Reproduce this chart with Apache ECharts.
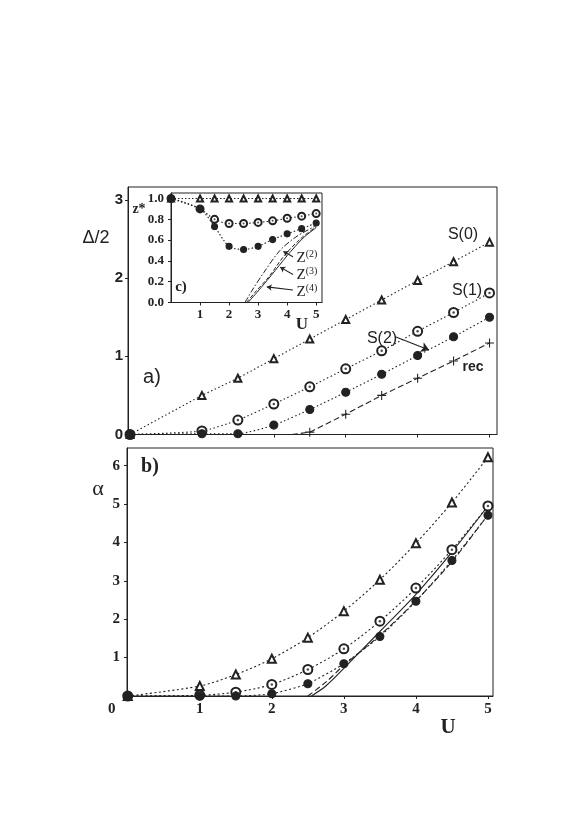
<!DOCTYPE html>
<html>
<head>
<meta charset="utf-8">
<script src="https://cdn.jsdelivr.net/npm/echarts@6/dist/echarts.min.js"></script>
<style>
html, body { margin: 0; padding: 0; background: #fff; }
#chart { width: 581px; height: 823px; }
</style>
</head>
<body>
<div id="chart"></div>
<script>
// a) Delta/2 against U
var uA = [0, 1, 1.5, 2, 2.5, 3, 3.5, 4, 4.5, 5];
var aS0 = [0, 0.50, 0.72, 0.97, 1.22, 1.47, 1.72, 1.97, 2.21, 2.46];
var aS1 = [0, 0.045, 0.185, 0.39, 0.61, 0.84, 1.07, 1.32, 1.56, 1.81];
var aS2 = [0, 0.01, 0.01, 0.12, 0.32, 0.54, 0.77, 1.01, 1.25, 1.50];
var uRecA = [2.25, 2.5, 3, 3.5, 4, 4.5, 5];
var aRec = [0, 0.03, 0.26, 0.50, 0.72, 0.94, 1.17];

// b) alpha against U
var uB = [0, 1, 1.5, 2, 2.5, 3, 3.5, 4, 4.5, 5];
var bS0 = [0, 0.26, 0.56, 0.97, 1.52, 2.21, 3.03, 3.98, 5.04, 6.22];
var bS1 = [0, 0.02, 0.10, 0.30, 0.69, 1.23, 1.95, 2.81, 3.81, 4.95];
var bS2 = [0, 0, 0, 0.06, 0.32, 0.84, 1.55, 2.47, 3.53, 4.71];
var uSolidB = [2.55, 2.75, 3, 3.5, 4, 4.5, 5];
var bSolid = [0, 0.26, 0.72, 1.68, 2.65, 3.75, 4.95];
var uDashB = [2.5, 2.75, 3, 3.5, 4, 4.5, 5];
var bDash = [0, 0.36, 0.80, 1.58, 2.48, 3.50, 4.72];

// c) inset z* against U
var uC = [0, 1, 1.5, 2, 2.5, 3, 3.5, 4, 4.5, 5];
var cS0 = [1, 1, 1, 1, 1, 1, 1, 1, 1, 1];
var cS1 = [1, 0.90, 0.80, 0.76, 0.76, 0.77, 0.785, 0.81, 0.83, 0.855];
var cS2 = [1, 0.90, 0.73, 0.54, 0.51, 0.54, 0.605, 0.66, 0.71, 0.765];
var uZ2 = [2.55, 2.8, 3.2, 3.75, 4.3, 5];
var cZ2 = [0, 0.12, 0.29, 0.50, 0.63, 0.74];
var uZ3 = [2.6, 2.9, 3.35, 3.9, 4.45, 5];
var cZ3 = [0, 0.10, 0.24, 0.45, 0.61, 0.73];
var uZ4 = [2.65, 3.0, 3.45, 4.0, 4.55, 5];
var cZ4 = [0, 0.11, 0.26, 0.45, 0.62, 0.72];

// tick labels
var aXTicks = [1, 2, 3, 4, 5];
var aYTicks = [0, 1, 2, 3];
var bXTicks = [0, 1, 2, 3, 4, 5];
var bYTicks = [1, 2, 3, 4, 5, 6];
var cXTicks = [1, 2, 3, 4, 5];
var cYTicks = [0, 0.2, 0.4, 0.6, 0.8, 1.0];

var ink = '#222';
var plusPath = 'path://M4.4,0H5.6V4.4H10V5.6H5.6V10H4.4V5.6H0V4.4H4.4Z';

function pts(xs, ys, firstBare) {
	var out = [];
	for (var i = 0; i < xs.length; i++) {
		if (firstBare && i === 0) out.push({ value: [xs[i], ys[i]], symbol: 'none' });
		else out.push([xs[i], ys[i]]);
	}
	return out;
}

function curve(gi, xs, ys, opt) {
	var s = {
		type: 'line',
		xAxisIndex: gi, yAxisIndex: gi,
		data: pts(xs, ys, opt.firstBare),
		smooth: opt.smooth || false,
		symbol: opt.symbol || 'none',
		symbolSize: opt.size || 8,
		showSymbol: !!opt.symbol,
		lineStyle: { color: ink, width: opt.width || 1.1, type: opt.dash || 'solid' },
		itemStyle: { color: opt.fill || ink, borderColor: ink, borderWidth: opt.bw === undefined ? 1.1 : opt.bw },
		z: opt.z || 2,
		silent: true
	};
	if (opt.markLine) s.markLine = opt.markLine;
	return s;
}

// centre dots of the open circles
function dots(gi, xs, ys, size, z) {
	return {
		type: 'scatter', xAxisIndex: gi, yAxisIndex: gi,
		data: pts(xs, ys), symbol: 'circle', symbolSize: size,
		itemStyle: { color: ink }, z: z || 3, silent: true
	};
}

function arrow(from, to, z, head) {
	return {
		silent: true, animation: false, z: z,
		symbol: ['none', 'arrow'], symbolSize: head || 9,
		label: { show: false },
		itemStyle: { color: ink },
		lineStyle: { color: ink, width: 1.1, type: 'solid' },
		data: [[{ coord: from }, { coord: to }]]
	};
}

function xAxis(gi, min, max, ticks, showLabels, font, fontSize, z, fmt) {
	return {
		type: 'value', gridIndex: gi, min: min, max: max, z: z || 0,
		splitLine: { show: false },
		axisLine: { show: true, onZero: false, lineStyle: { color: ink, width: 1 } },
		axisTick: { show: true, length: 3, customValues: ticks, lineStyle: { color: ink } },
		axisLabel: {
			show: showLabels, customValues: ticks, margin: 6,
			fontFamily: font, fontSize: fontSize, color: ink, fontWeight: 'bold',
			formatter: fmt,
			rich: { corner: { padding: [0, 32, 0, 0], fontFamily: font, fontSize: fontSize, fontWeight: 'bold', color: ink } }
		}
	};
}

function yAxis(gi, min, max, ticks, font, fontSize, margin, z, fmt) {
	return {
		type: 'value', gridIndex: gi, min: min, max: max, z: z || 0,
		splitLine: { show: false },
		axisLine: { show: true, onZero: false, lineStyle: { color: ink, width: 1 } },
		axisTick: { show: true, length: 3, customValues: ticks, lineStyle: { color: ink } },
		axisLabel: {
			customValues: ticks, margin: margin,
			fontFamily: font, fontSize: fontSize, color: ink, fontWeight: 'bold',
			formatter: fmt
		}
	};
}

function txt(x, y, text, font, size, weight, extra) {
	var st = {
		x: x, y: y, text: text, fill: ink,
		font: (weight || 'normal') + ' ' + size + 'px ' + font,
		align: 'center', verticalAlign: 'middle'
	};
	if (extra) for (var k in extra) st[k] = extra[k];
	return { type: 'text', style: st, z: 20 };
}

var sans = '"Liberation Sans", Arial, sans-serif';
var serif = '"Liberation Serif", "Times New Roman", serif';

function zLabel(y, n) {
	return txt(307, y, '{b|Z}{s|(' + n + ')}', serif, 15, 'normal', {
		rich: {
			b: { font: 'normal 15px ' + serif, fill: ink },
			s: { font: 'normal 10px ' + serif, fill: ink, padding: [0, 0, 7, 0] }
		}
	});
}

var chartObj = echarts.init(document.getElementById('chart'), null, { renderer: 'canvas' });

var option = {
	animation: false,
	backgroundColor: '#fff',
	grid: [
		{ left: 128, top: 187, width: 369, height: 247.5, show: true, borderColor: ink, borderWidth: 1, backgroundColor: 'transparent' },
		{ left: 127, top: 448, width: 366, height: 248, show: true, borderColor: ink, borderWidth: 1, backgroundColor: 'transparent' },
		{ left: 171, top: 193, width: 151, height: 109.5, show: true, borderColor: ink, borderWidth: 1, backgroundColor: '#fff', z: 5 }
	],
	xAxis: [
		xAxis(0, -0.028, 5.104, aXTicks, false, sans, 14),
		xAxis(1, -0.01, 5.07, bXTicks, true, serif, 15, 0, function (v) { return v === 0 ? '{corner|0}' : String(v); }),
		xAxis(2, 0, 5.2, cXTicks, true, serif, 13, 6)
	],
	yAxis: [
		yAxis(0, 0, 3.165, aYTicks, sans, 15, 5),
		yAxis(1, 0, 6.46, bYTicks, serif, 15, 7),
		yAxis(2, 0, 1.053, cYTicks, serif, 13, 7, 6, function (v) { return v.toFixed(1); })
	],
	series: [
		// a)
		curve(0, uA, aS0, { symbol: 'emptyTriangle', size: 7, dash: [1.5, 2.5] }),
		curve(0, uA, aS1, { symbol: 'emptyCircle', size: 9, dash: [1.5, 2.5], smooth: 0.2 }),
		dots(0, uA.slice(1), aS1.slice(1), 2.5),
		curve(0, uA, aS2, { symbol: 'circle', size: 8, dash: [1.5, 2.5], smooth: 0.2,
			markLine: arrow([3.69, 1.25], [4.16, 1.08], 4, 8) }),
		curve(0, uRecA, aRec, { symbol: plusPath, size: 9, dash: [6, 3], bw: 0, firstBare: true }),
		// b)
		curve(1, uB, bS0, { symbol: 'emptyTriangle', size: 8, dash: [2, 2.5], smooth: 0.3 }),
		curve(1, uB, bS1, { symbol: 'emptyCircle', size: 9, dash: [2, 2.5], smooth: 0.3 }),
		dots(1, uB.slice(1), bS1.slice(1), 2.5),
		curve(1, uB, bS2, { symbol: 'circle', size: 8, dash: [2, 2.5], smooth: 0.2 }),
		curve(1, uSolidB, bSolid, { width: 1.1, smooth: 0.3 }),
		curve(1, uDashB, bDash, { dash: [6, 3], width: 1.1, smooth: 0.3 }),
		// c) inset
		curve(2, uC, cS0, { symbol: 'emptyTriangle', size: 6, dash: [1.5, 2], z: 7 }),
		curve(2, uC, cS1, { symbol: 'emptyCircle', size: 7, dash: [1.5, 2], z: 7, smooth: 0.3 }),
		dots(2, uC.slice(1), cS1.slice(1), 2, 8),
		curve(2, uC, cS2, { symbol: 'circle', size: 6, dash: [1.5, 2], z: 9, smooth: 0.3 }),
		curve(2, uZ2, cZ2, { dash: [6, 2, 1.5, 2], width: 1, z: 7, smooth: 0.3,
			markLine: arrow([4.2, 0.44], [3.87, 0.49], 10, 5) }),
		curve(2, uZ3, cZ3, { dash: [4, 2], width: 1, z: 7, smooth: 0.3,
			markLine: arrow([4.2, 0.27], [3.76, 0.34], 10, 5) }),
		curve(2, uZ4, cZ4, { width: 1, z: 7, smooth: 0.3,
			markLine: arrow([4.2, 0.12], [3.3, 0.15], 10, 5) })
	],
	graphic: [
		txt(96, 238, '\u0394/2', sans, 18),
		txt(98, 489, '\u03b1', serif, 22),
		txt(448, 728, 'U', serif, 21, 'bold'),
		txt(152, 377, 'a)', sans, 20),
		txt(150, 467, 'b)', serif, 20, 'bold'),
		txt(181, 287, 'c)', serif, 15, 'bold'),
		txt(139, 209, 'z*', serif, 14, 'bold'),
		txt(302, 325, 'U', serif, 17, 'bold'),
		txt(463, 235, 'S(0)', sans, 16),
		txt(467, 291, 'S(1)', sans, 16),
		txt(382, 339, 'S(2)', sans, 16),
		txt(473, 367, 'rec', sans, 14, 'bold'),
		zLabel(258, 2),
		zLabel(275, 3),
		zLabel(292, 4)
	]
};

chartObj.setOption(option);
</script>
</body>
</html>
